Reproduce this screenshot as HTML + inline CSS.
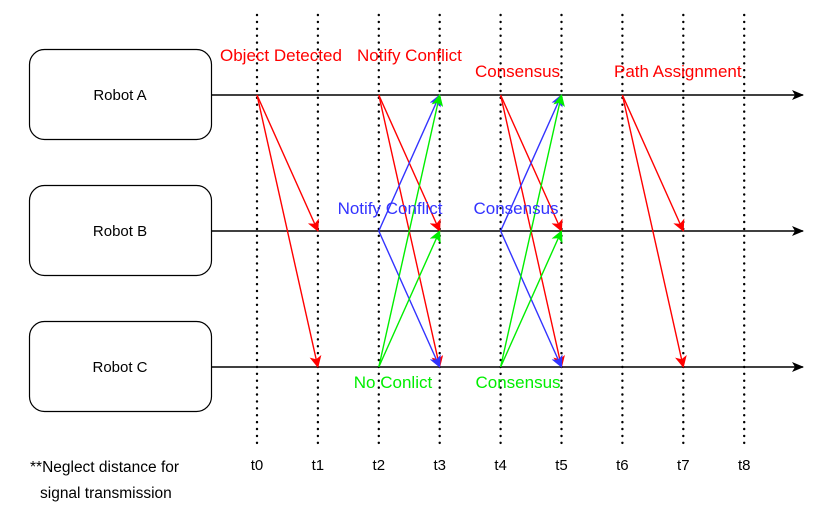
<!DOCTYPE html>
<html><head><meta charset="utf-8"><style>
body{margin:0;background:#fff;}
svg{display:block;font-family:"Liberation Sans",Arial,sans-serif;}
</style></head><body>
<svg id="chart" width="836" height="521" viewBox="0 0 836 521">
<defs>
<marker id="ak" markerWidth="12" markerHeight="12" refX="11" refY="6" orient="auto" markerUnits="userSpaceOnUse"><path d="M0,1 L12,6 L0,11 L3,6 z" fill="#000"/></marker>
<marker id="ar" markerWidth="12" markerHeight="12" refX="11" refY="6" orient="auto" markerUnits="userSpaceOnUse"><path d="M0,0 L12,6 L0,12 L3,6 z" fill="#ff0000"/></marker>
<marker id="ab" markerWidth="12" markerHeight="12" refX="11" refY="6" orient="auto" markerUnits="userSpaceOnUse"><path d="M0,0 L12,6 L0,12 L3,6 z" fill="#3333ff"/></marker>
<marker id="ag" markerWidth="12" markerHeight="12" refX="11" refY="6" orient="auto" markerUnits="userSpaceOnUse"><path d="M0,0 L12,6 L0,12 L3,6 z" fill="#00ee00"/></marker>
</defs>
<g id="layer"></g>
</svg>
<script>
const times = ["t0","t1","t2","t3","t4","t5","t6","t7","t8"];
const robots = ["Robot A","Robot B","Robot C"];
// messages: [timeIdx, robotIdx]
const msgFrom = [[0,0],[0,0],[2,0],[2,0],[2,1],[2,1],[2,2],[2,2],[4,0],[4,0],[4,1],[4,1],[4,2],[4,2],[6,0],[6,0]];
const msgTo   = [[1,1],[1,2],[3,1],[3,2],[3,0],[3,2],[3,0],[3,1],[5,1],[5,2],[5,0],[5,2],[5,0],[5,1],[7,1],[7,2]];
const msgColor = ["r","r","r","r","b","b","g","g","r","r","b","b","g","g","r","r"];
const labels = [
 ["Object Detected",220,61,"r","start"],["Notify Conflict",357,61,"r","start"],
 ["Consensus",475,77,"r","start"],["Path Assignment",614,77,"r","start"],
 ["Notify Conflict",390,214,"b","middle"],["Consensus",516,214,"b","middle"],
 ["No Conlict",393,388,"g","middle"],["Consensus",518,388,"g","middle"]];
const colors={r:"#ff0000",b:"#3333ff",g:"#00ee00"};
const NS="http://www.w3.org/2000/svg";
const g=document.getElementById("layer");
const tx=i=>257+i*60.9;
const ry=i=>95+i*136;
function el(t,a){const e=document.createElementNS(NS,t);for(const k in a)e.setAttribute(k,a[k]);g.appendChild(e);return e;}
times.forEach((t,i)=>{
 const l=el("line",{x1:tx(i),y1:15,x2:tx(i),y2:446,stroke:"#000","stroke-width":2.4,"stroke-dasharray":"0.1 6.8","stroke-linecap":"round"});
 
 
 const tt=el("text",{x:tx(i),y:470,"text-anchor":"middle","font-size":15,fill:"#000"});tt.textContent=t;
 
 
});
robots.forEach((r,i)=>{
 const y=ry(i);
 const ln=el("line",{x1:212,y1:y,x2:803,y2:y,stroke:"#000","stroke-width":1.4,"marker-end":"url(#ak)"});
 
 
 const b=el("rect",{x:29.5,y:y-45.5,width:182,height:90,rx:15,fill:"#fff",stroke:"#000","stroke-width":1.2});
 
 
 const t=el("text",{x:120,y:y+5,"text-anchor":"middle","font-size":15,fill:"#000"});t.textContent=r;
 
 
});
msgFrom.forEach((f,i)=>{
 const to=msgTo[i],c=msgColor[i];
 const a=el("line",{x1:tx(f[0]),y1:ry(f[1]),x2:tx(to[0]),y2:ry(to[1]),stroke:colors[c],"stroke-width":1.4,"marker-end":"url(#a"+c+")"});
 
 
});
labels.forEach(l=>{
 const t=el("text",{x:l[1],y:l[2],"text-anchor":l[4],"font-size":17,fill:colors[l[3]]});t.textContent=l[0];
 
 
});
const n1=el("text",{x:30,y:472,"font-size":15.5,fill:"#000"});n1.textContent="**Neglect distance for";


const n2=el("text",{x:40,y:498,"font-size":15.5,fill:"#000"});n2.textContent="signal transmission";


</script>
</body></html>
